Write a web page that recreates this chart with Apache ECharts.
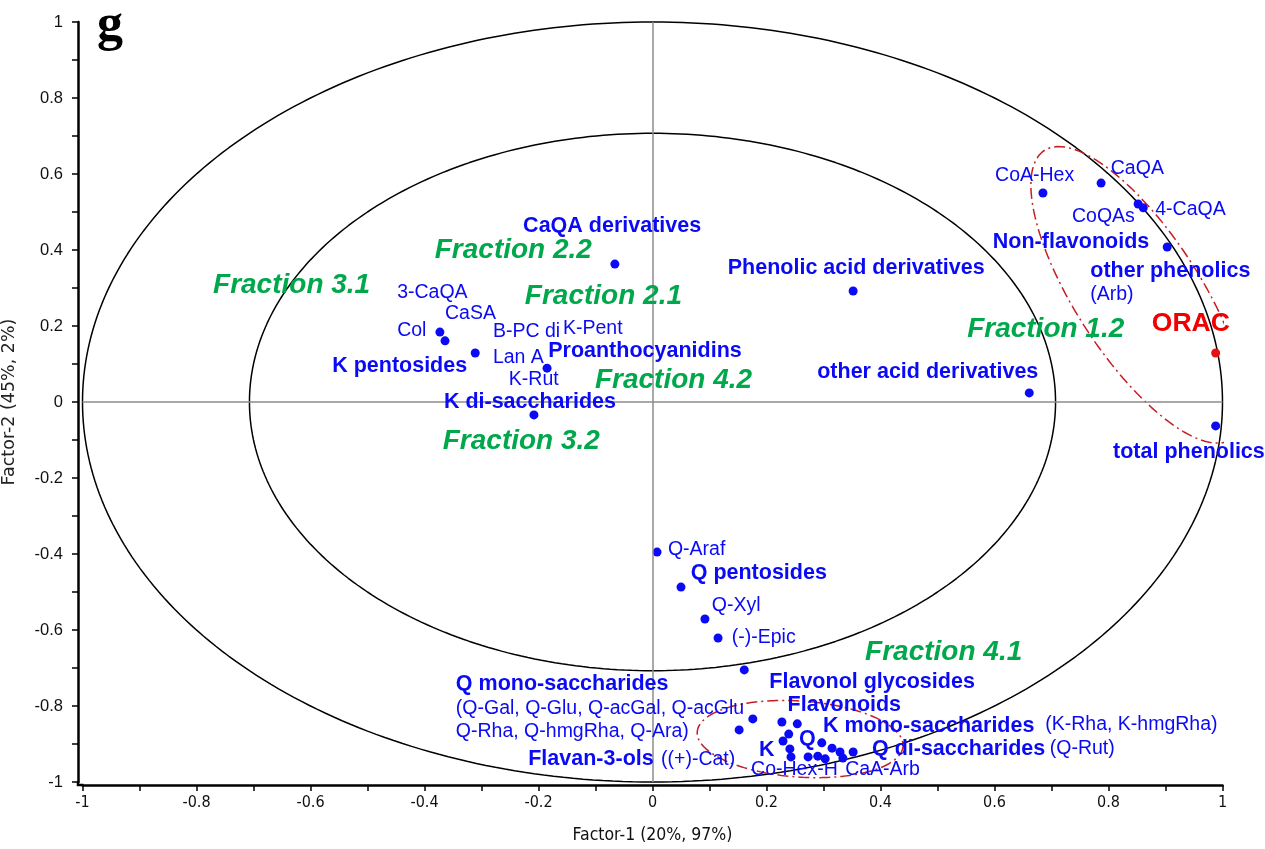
<!DOCTYPE html>
<html>
<head>
<meta charset="utf-8">
<script src="https://cdn.jsdelivr.net/npm/echarts@6/dist/echarts.min.js"></script>
<style>html,body{margin:0;padding:0;background:#fff}#c{width:1265px;height:849px}</style>
</head>
<body>
<div id="c"></div>
<script>
// ---------- data (loadings) ----------
const xTickValues = [-1, -0.8, -0.6, -0.4, -0.2, 0, 0.2, 0.4, 0.6, 0.8, 1];
const variableX = [0.685, 0.787, 0.852, 0.861, 0.903, 0.988, 0.661, 0.352, -0.066,
  -0.373, -0.364, -0.311, -0.185, -0.208,
  0.008, 0.050, 0.092, 0.115, 0.161,
  0.152, 0.176, 0.227, 0.254, 0.239, 0.229, 0.241, 0.243, 0.273, 0.297, 0.290, 0.303, 0.315, 0.329, 0.334, 0.352];
const variableY = [0.550, 0.576, 0.521, 0.511, 0.408, -0.063, 0.024, 0.292, 0.363,
  0.184, 0.161, 0.129, 0.089, -0.034,
  -0.395, -0.487, -0.571, -0.621, -0.705,
  -0.863, -0.834, -0.842, -0.847, -0.874, -0.892, -0.913, -0.934, -0.934, -0.897, -0.932, -0.939, -0.911, -0.921, -0.937, -0.921];
const responseX = [0.988];
const responseY = [0.129];

// correlation circles (radius 1 and sqrt(1/2))
const circleRadii = [1, Math.SQRT1_2];
// highlighted groups: centre (data), semi-axes (x-units), screen rotation (deg)
const groupEllipses = [
  {cx: 0.852, cy: 0.282, a: 0.302, b: 0.109, angle: 57},
  {cx: 0.259, cy: -0.887, a: 0.181, b: 0.0667, angle: 4}
];

// text annotations: [text, x, y]
const fractionLabels = [
  ['Fraction 3.1', -0.771, 0.308], ['Fraction 2.2', -0.382, 0.400], ['Fraction 2.1', -0.224, 0.279],
  ['Fraction 4.2', -0.101, 0.058], ['Fraction 3.2', -0.368, -0.103], ['Fraction 1.2', 0.552, 0.192],
  ['Fraction 4.1', 0.373, -0.658]
];
const groupLabels = [
  ['CaQA derivatives', -0.227, 0.463], ['Phenolic acid derivatives', 0.132, 0.353],
  ['Non-flavonoids', 0.597, 0.420], ['other phenolics', 0.768, 0.345],
  ['Proanthocyanidins', -0.183, 0.134], ['K pentosides', -0.562, 0.095],
  ['K di-saccharides', -0.366, -0.001], ['other acid derivatives', 0.289, 0.079],
  ['total phenolics', 0.808, -0.133], ['Q pentosides', 0.067, -0.449],
  ['Flavonol glycosides', 0.205, -0.738], ['Q mono-saccharides', -0.345, -0.742],
  ['Flavonoids', 0.237, -0.797], ['K mono-saccharides', 0.299, -0.853],
  ['Q', 0.257, -0.887], ['K', 0.187, -0.916], ['Q di-saccharides', 0.385, -0.913],
  ['Flavan-3-ols', -0.218, -0.939]
];
const compoundLabels = [
  ['CoA-Hex', 0.601, 0.595], ['CaQA', 0.804, 0.613], ['CoQAs', 0.736, 0.489], ['4-CaQA', 0.882, 0.505],
  ['(Arb)', 0.768, 0.282], ['3-CaQA', -0.448, 0.287], ['CaSA', -0.364, 0.232], ['Col', -0.448, 0.187],
  ['B-PC di', -0.280, 0.184], ['K-Pent', -0.157, 0.192], ['Lan A', -0.280, 0.118], ['K-Rut', -0.252, 0.058],
  ['Q-Araf', 0.027, -0.389], ['Q-Xyl', 0.104, -0.537], ['(-)-Epic', 0.139, -0.620],
  ['(Q-Gal, Q-Glu, Q-acGal, Q-acGlu', -0.345, -0.808], ['Q-Rha, Q-hmgRha, Q-Ara)', -0.345, -0.868],
  ['((+)-Cat)', 0.015, -0.942], ['(K-Rha, K-hmgRha)', 0.689, -0.850], ['(Q-Rut)', 0.697, -0.913],
  ['Co-Hex-H', 0.173, -0.968], ['CaA-Arb', 0.338, -0.968]
];
const responseLabels = [['ORAC', 0.876, 0.205]];

// ---------- styling ----------
const FONT = "'Liberation Sans', Arial, sans-serif";
const NARROW = "'Liberation Sans Narrow', 'DejaVu Sans Condensed', 'Liberation Sans', Arial, sans-serif";
const BLUE = '#0a0af5';
const GREEN = '#00a84c';
const RED = '#f00000';

const chart = echarts.init(document.getElementById('c'), null, {renderer: 'canvas'});

function axisCommon() {
  return {
    type: 'value', min: -1, max: 1, interval: 0.2,
    axisLine: {show: true, onZero: false, lineStyle: {color: '#000', width: 2.5}},
    axisTick: {show: true, inside: false, length: 6, lineStyle: {color: '#000', width: 1.5}},
    minorTick: {show: true, splitNumber: 2, length: 6, lineStyle: {color: '#000', width: 1.5}},
    splitLine: {show: false}, minorSplitLine: {show: false}
  };
}

const option = {
  animation: false,
  backgroundColor: '#fff',
  grid: {left: 82.5, right: 42.5, top: 22, bottom: 67, outerBoundsMode: 'none'},
  title: {
    text: 'g', left: 92, top: -4,
    textStyle: {fontFamily: "'Liberation Serif', 'Times New Roman', serif", fontWeight: 'bold', fontSize: 52, color: '#000'}
  },
  xAxis: Object.assign(axisCommon(), {
    offset: 3,
    axisLabel: {color: '#111', fontSize: 16, fontFamily: NARROW, margin: 10},
    name: 'Factor-1 (20%, 97%)', nameLocation: 'middle', nameGap: 41,
    nameTextStyle: {color: '#111', fontSize: 17.5, fontFamily: NARROW}
  }),
  yAxis: Object.assign(axisCommon(), {
    offset: 4.5,
    axisLabel: {color: '#111', fontSize: 16.5, fontFamily: FONT, margin: 15, padding: [0, 0, 5, 0]},
    name: 'Factor-2 (45%, 2%)', nameLocation: 'middle', nameGap: 60,
    nameTextStyle: {color: '#222', fontSize: 17.5, fontFamily: "'DejaVu Sans', sans-serif"}
  }),
  series: []
};
chart.setOption(option);

const p0 = chart.convertToPixel({gridIndex: 0}, [0, 0]);
const p1 = chart.convertToPixel({gridIndex: 0}, [1, 1]);
const pm = chart.convertToPixel({gridIndex: 0}, [-1, -1]);
const kx = p1[0] - p0[0];
const ky = p0[1] - p1[1];

function circlePoints(r) {
  const pts = [];
  const N = 360;
  for (let i = 0; i <= N; i++) {
    const t = 2 * Math.PI * i / N;
    pts.push([r * Math.cos(t), r * Math.sin(t)]);
  }
  return pts;
}
function ellipsePoints(e) {
  const pts = [];
  const N = 240;
  const th = e.angle * Math.PI / 180;
  for (let i = 0; i <= N; i++) {
    const t = 2 * Math.PI * i / N;
    const ux = e.a * Math.cos(t), uy = e.b * Math.sin(t);
    const dx = ux * Math.cos(th) - uy * Math.sin(th);
    const dyDown = ux * Math.sin(th) + uy * Math.cos(th);
    pts.push([e.cx + dx, e.cy - dyDown * kx / ky]);
  }
  return pts;
}
function labelSeries(list, style, z) {
  return {
    type: 'scatter', z: z, silent: true,
    symbolSize: 0, itemStyle: {color: 'transparent', opacity: 1},
    data: list.map(d => ({name: d[0], value: [d[1], d[2]]})),
    label: Object.assign({show: true, position: 'right', distance: 0, formatter: '{b}', opacity: 1}, style)
  };
}

const series = [];
circleRadii.forEach((r, i) => {
  const s = {
    type: 'line', data: circlePoints(r), showSymbol: false, symbol: 'none', clip: false, z: 1, silent: true,
    lineStyle: {color: '#000', width: 1.5}
  };
  if (i === 0) {
    s.markLine = {
      silent: true, symbol: ['none', 'none'], label: {show: false},
      lineStyle: {color: '#8c8c8c', width: 1.5, type: 'solid'},
      data: [{xAxis: 0}, {yAxis: 0}]
    };
  }
  series.push(s);
});
groupEllipses.forEach(e => {
  series.push({
    type: 'line', data: ellipsePoints(e), showSymbol: false, symbol: 'none', clip: false, z: 2, silent: true,
    lineStyle: {color: '#c41e22', width: 1.5, type: [11, 4, 2, 4]}
  });
});
series.push({
  type: 'scatter', z: 3, symbolSize: 9, itemStyle: {color: BLUE, opacity: 1},
  data: variableX.map((x, i) => [x, variableY[i]])
});
series.push({
  type: 'scatter', z: 3, symbolSize: 9, itemStyle: {color: '#e81010', opacity: 1},
  data: responseX.map((x, i) => [x, responseY[i]])
});
series.push(labelSeries(fractionLabels, {color: GREEN, fontSize: 28, fontWeight: 'bold', fontStyle: 'italic', fontFamily: FONT}, 5));
series.push(labelSeries(groupLabels, {color: BLUE, fontSize: 21.5, fontWeight: 'bold', fontFamily: FONT}, 5));
series.push(labelSeries(compoundLabels, {color: BLUE, fontSize: 19.5, fontFamily: FONT}, 5));
series.push(labelSeries(responseLabels, {color: RED, fontSize: 26.5, fontWeight: 'bold', fontFamily: FONT}, 5));

chart.setOption({
  series: series,
  graphic: [{
    type: 'polyline', silent: true, z: 10,
    shape: {points: [[pm[0] - 4.5, pm[1] - 1], [pm[0] - 4.5, pm[1] + 3], [pm[0] + 1, pm[1] + 3]]},
    style: {stroke: '#000', lineWidth: 2.5, fill: null}
  }]
});
</script>
</body>
</html>
